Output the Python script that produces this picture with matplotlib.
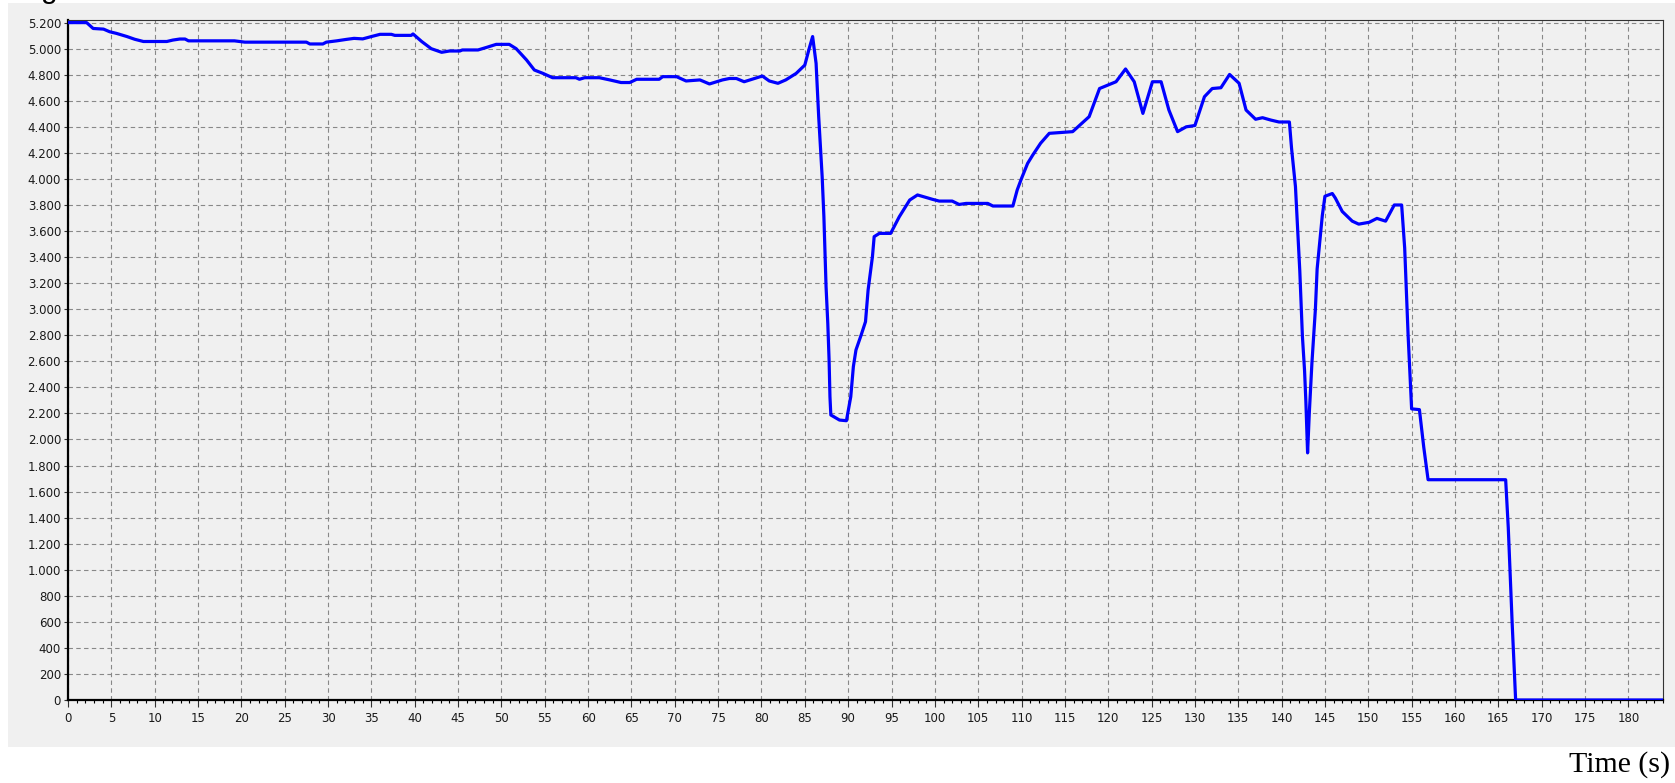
import matplotlib
matplotlib.use("Agg")
import matplotlib.pyplot as plt
from matplotlib.patches import Rectangle
from matplotlib.ticker import MultipleLocator, FuncFormatter

# time (s) and value
time_s = [0, 2.15, 2.9, 4.1, 4.8, 5.6, 6.8, 7.7, 8.7, 11.4,
          12.1, 12.9, 13.5, 13.9, 19.2, 20.4, 27.5, 27.9, 29.4, 29.8,
          31.0, 32.1, 33.0, 34.0, 35.0, 36.0, 37.3, 37.7, 39.6, 39.8,
          40.8, 41.9, 43.1, 44.0, 45.2, 45.5, 47.3, 48.3, 49.4, 50.9,
          51.7, 52.9, 53.8, 54.8, 55.9, 58.6, 59.0, 59.6, 61.3, 62.5,
          63.8, 64.8, 65.6, 68.2, 68.6, 70.2, 71.3, 72.9, 74.0, 75.5,
          76.3, 77.1, 78.0, 79.2, 80.1, 80.9, 81.9, 82.8, 84.0, 85.0,
          85.5, 85.9, 86.3, 86.6, 87.0, 87.2, 87.45, 87.65, 87.8, 87.9,
          88.0, 89.0, 89.8, 90.3, 90.6, 90.9, 91.5, 92.0, 92.3, 92.8,
          93.0, 93.6, 94.9, 95.9, 97.1, 98.0, 99.75, 100.5, 102.0, 102.8,
          103.6, 106.1, 106.7, 109.0, 109.5, 110.0, 110.7, 111.3, 112.2, 113.2,
          115.9, 117.8, 119.0, 120.9, 122.0, 123.0, 124.0, 125.1, 126.1, 127.0,
          128.0, 129.0, 130.0, 131.1, 132.0, 133.0, 134.0, 135.1, 135.9, 137.0,
          137.8, 138.75, 139.7, 140.9, 141.15, 141.6, 142.1, 142.4, 142.65, 142.8,
          143.0, 143.2, 143.5, 143.9, 144.1, 144.7, 145.0, 145.85, 146.2, 147.0,
          148.15, 148.9, 150.1, 151.0, 152.0, 153.0, 153.85, 154.2, 154.6, 155.0,
          155.9, 156.4, 156.9, 165.85, 166.15, 166.6, 167.0, 184.0]
values = [5200, 5200, 5155, 5150, 5130, 5117, 5093, 5072, 5055, 5055,
          5066, 5074, 5074, 5060, 5060, 5050, 5050, 5036, 5036, 5050,
          5060, 5071, 5079, 5075, 5093, 5110, 5110, 5102, 5102, 5113,
          5055, 5000, 4972, 4982, 4982, 4990, 4990, 5010, 5033, 5033,
          5000, 4913, 4836, 4810, 4777, 4777, 4765, 4777, 4777, 4760,
          4740, 4740, 4765, 4765, 4785, 4785, 4752, 4760, 4729, 4760,
          4771, 4771, 4746, 4771, 4790, 4752, 4734, 4760, 4810, 4874,
          5000, 5093, 4887, 4478, 4017, 3710, 3173, 2892, 2610, 2328,
          2188, 2149, 2144, 2328, 2559, 2687, 2802, 2904, 3147, 3403,
          3557, 3582, 3582, 3710, 3838, 3877, 3843, 3830, 3830, 3804,
          3812, 3812, 3792, 3792, 3915, 4004, 4119, 4184, 4274, 4350,
          4363, 4478, 4694, 4746, 4844, 4746, 4503, 4746, 4746, 4529,
          4363, 4400, 4410, 4631, 4694, 4700, 4802, 4734, 4529, 4458,
          4470, 4452, 4437, 4437, 4235, 3941, 3294, 2794, 2529, 2294,
          1897, 2206, 2588, 3000, 3309, 3720, 3867, 3888, 3853, 3750,
          3676, 3653, 3667, 3697, 3676, 3800, 3800, 3470, 2794, 2235,
          2229, 1941, 1691, 1691, 1323, 588, 0, 0]

fig = plt.figure(figsize=(16.75, 7.83), dpi=100)
fig.patch.set_facecolor("white")

# grey panel behind the chart
fig.patches.append(Rectangle((8 / 1675, 36 / 783), 1 - 8 / 1675, 744 / 783,
                             transform=fig.transFigure, facecolor="#f0f0f0",
                             edgecolor="none", zorder=-5))

ax = fig.add_axes([68 / 1675, 83 / 783, (1663 - 68) / 1675, (700 - 20) / 783])
ax.set_zorder(2)
ax.set_facecolor("#f0f0f0")

ax.plot(time_s, values, color="#0000ff", lw=2.3, zorder=3)

ax.set_xlim(0, 184)
ax.set_ylim(0, 5220)
ax.xaxis.set_major_locator(MultipleLocator(5))
ax.xaxis.set_minor_locator(MultipleLocator(1))
ax.yaxis.set_major_locator(MultipleLocator(200))
ax.yaxis.set_major_formatter(FuncFormatter(lambda v, p: f"{int(v):,}".replace(",", ".")))

ax.grid(True, which="major", color="#888888", linestyle=(0, (4, 3)), lw=0.8)
ax.tick_params(axis="both", which="major", labelsize=8.5, colors="#333333",
               labelcolor="#1a1a1a", direction="out")
ax.tick_params(axis="x", which="major", length=5, width=0.8, pad=4)
ax.tick_params(axis="x", which="minor", length=2.5, width=0.8)
ax.tick_params(axis="y", which="major", length=3, width=0.8, pad=2)
for lab in ax.get_xticklabels() + ax.get_yticklabels():
    lab.set_family("DejaVu Sans")

for side in ["left", "bottom"]:
    ax.spines[side].set_linewidth(1.6)
    ax.spines[side].set_color("black")
for side in ["top", "right"]:
    ax.spines[side].set_linewidth(0.8)
    ax.spines[side].set_color("#333333")

fig.text(1670 / 1675, 1 - 765 / 783, "Time (s)", ha="right", va="center",
         fontsize=21.5, family="Liberation Serif")
# label fragment at the very top-left, cut by the top edge as in the source
fig.text(49 / 1675, 1 + 2.5 / 783, "g", ha="center", va="baseline",
         fontsize=21.5, family="Liberation Sans")

fig.savefig("out.png", dpi=100)
